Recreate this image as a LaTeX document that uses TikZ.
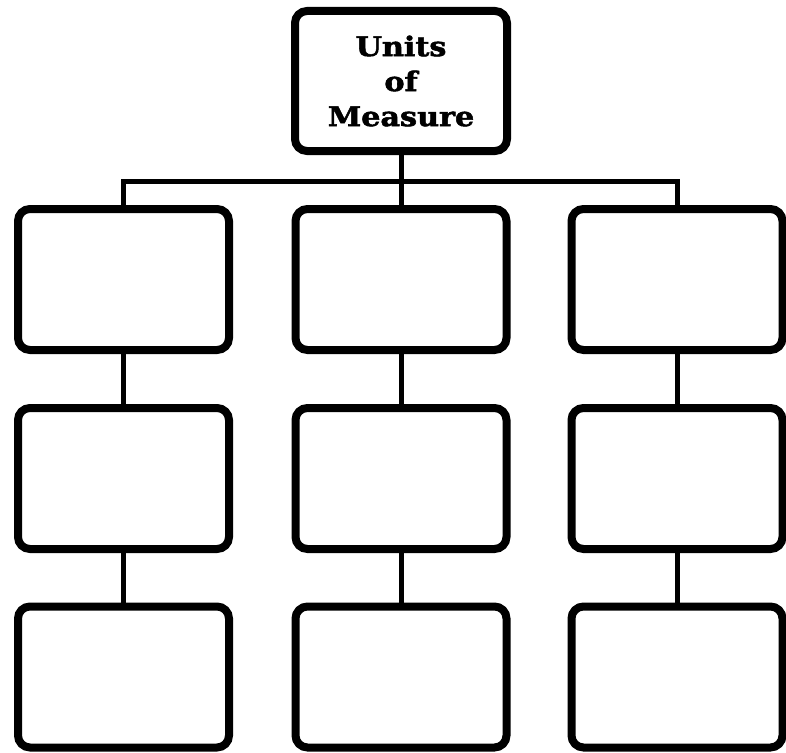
\documentclass[tikz,border=0pt]{standalone}
\usepackage{fontspec}
\usetikzlibrary{backgrounds}
\newfontfamily\labelfont[FakeStretch=1.12,BoldFeatures={FakeBold=2}]{DejaVu Serif}
\begin{document}
\begin{tikzpicture}[x=1pt,y=-1pt,
  box/.style={draw=black, fill=white, line width=8pt, rounded corners=12pt,
    minimum width=211pt, minimum height=141pt, inner sep=0pt},
  topbox/.style={box, minimum width=212pt, minimum height=140pt,
    font=\labelfont\bfseries\fontsize{27}{35}\selectfont, align=center},
  link/.style={draw=black, line width=5pt}]
\useasboundingbox (0,0) rectangle (786,752);
\coordinate (bus) at (401,181);
\node[topbox] (top) at (401,81) {Units\\of\\Measure};
\node[box] (b11) at (123.5,279.5) {};
\node[box] (b12) at (401,279.5) {};
\node[box] (b13) at (677,279.5) {};
\node[box] (b21) at (123.5,478.5) {};
\node[box] (b22) at (401,478.5) {};
\node[box] (b23) at (677,478.5) {};
\node[box] (b31) at (123.5,677) {};
\node[box] (b32) at (401,677) {};
\node[box] (b33) at (677,677) {};
\begin{scope}[on background layer]
\path[link] (top.south) -- (bus);
\path[link] (b11.north) -- (b11.north |- bus) -- (b13.north |- bus) -- (b13.north);
\path[link] (bus) -- (b12.north);
\foreach \c in {1,2,3}{
  \path[link] (b1\c.south) -- (b2\c.north);
  \path[link] (b2\c.south) -- (b3\c.north);
}
\end{scope}
\end{tikzpicture}
\end{document}
